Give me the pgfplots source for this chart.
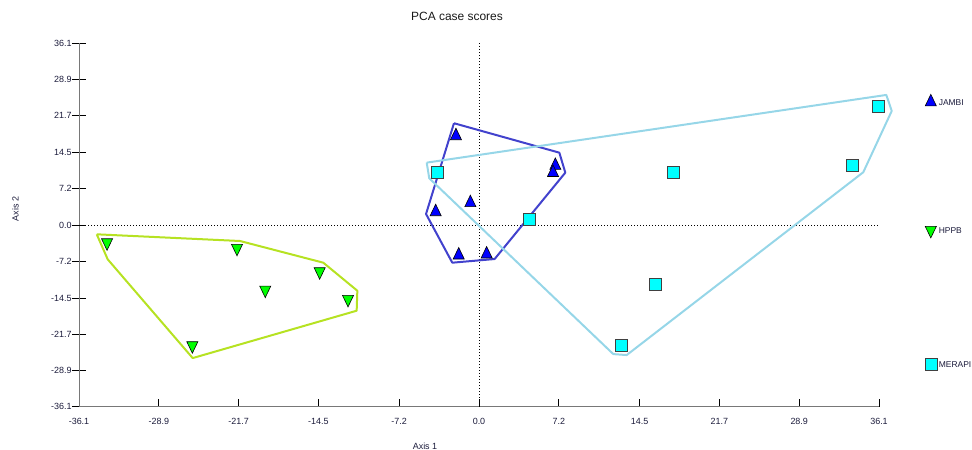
\documentclass[border=0pt]{standalone}
\usepackage{pgfplots}
\pgfplotsset{compat=1.18}
\usepackage{fontspec}
\setmainfont{Liberation Sans}

\definecolor{jambifill}{RGB}{0,0,255}
\definecolor{jambihull}{RGB}{66,66,205}
\definecolor{hppbfill}{RGB}{0,255,0}
\definecolor{hppbhull}{RGB}{182,226,34}
\definecolor{merapifill}{RGB}{0,255,255}
\definecolor{merapihull}{RGB}{150,214,232}
\definecolor{axisgray}{RGB}{120,120,120}
\definecolor{labelc}{RGB}{28,28,60}

\begin{document}
\begin{tikzpicture}
\path[use as bounding box] (0,0) rectangle (972bp,450bp);
\begin{axis}[
  at={(79bp,43.3bp)}, anchor=south west,
  scale only axis, width=800bp, height=363.4bp,
  xmin=-36.1, xmax=36.1, ymin=-36.1, ymax=36.1,
  axis x line=bottom, axis y line=left,
  axis line style={-, draw=axisgray, line width=0.9bp},
  clip=false,
  xtick={-36.1,-28.9,-21.7,-14.5,-7.2,0,7.2,14.5,21.7,28.9,36.1},
  xticklabels={-36.1,-28.9,-21.7,-14.5,-7.2,0.0,7.2,14.5,21.7,28.9,36.1},
  ytick={-36.1,-28.9,-21.7,-14.5,-7.2,0,7.2,14.5,21.7,28.9,36.1},
  yticklabels={-36.1,-28.9,-21.7,-14.5,-7.2,0.0,7.2,14.5,21.7,28.9,36.1},
  xtick align=inside, ytick align=center,
  major tick length=7.7bp,
  y tick style={/pgfplots/major tick length=14bp},
  tick style={black, line width=0.7bp},
  ticklabel style={font=\fontsize{9}{10}\selectfont, text=labelc},
  xticklabel style={yshift=-8bp},
  title={PCA case scores},
  every axis title/.style={at={(axis description cs:0.4725,1.0732)}, anchor=center,
    font=\fontsize{12}{14}\selectfont, text=black!90},
  xlabel={Axis 1},
  xlabel style={at={(axis description cs:0.4325,-0.108)}, anchor=center,
    font=\fontsize{9}{10}\selectfont, text=labelc},
  ylabel={Axis 2},
  ylabel style={at={(axis description cs:-0.0794,0.544)}, anchor=center,
    font=\fontsize{9}{10}\selectfont, text=labelc},
  legend image code/.code={%
    \draw[mark repeat=2,mark phase=2,#1] plot coordinates {(0bp,0bp) (6bp,0bp) (12bp,0bp)};},
  legend style={at={(axis description cs:1.057,0.860)}, anchor=north west,
    draw=none, fill=none, inner sep=0pt, row sep=120.5bp,
    font=\fontsize{8.5}{9}\selectfont, text=labelc,
    nodes={inner sep=0pt, text height=6bp, text depth=0bp},
    /tikz/every odd column/.style={column sep=2bp}},
  legend cell align=left,
]
% zero reference lines
\addplot[forget plot, black, line width=0.8bp, dash pattern=on 1bp off 2bp]
  coordinates {(0,-36.1) (0,36.1)};
\addplot[forget plot, black, line width=0.8bp, dash pattern=on 1bp off 2bp]
  coordinates {(-36.1,0) (36.1,0)};

% case scores
\addplot[only marks, mark=triangle*, mark size=6.4bp,
  mark options={yscale=1.2, fill=jambifill, draw=black, line width=0.6bp}]
  coordinates {(-2.08,17.7) (6.89,11.8) (6.68,10.4) (-0.78,4.4)
               (-3.91,2.6) (-1.83,-6.0) (0.69,-5.8)};
\addlegendentry{JAMBI}
\addplot[only marks, mark=triangle*, mark size=6.4bp,
  mark options={rotate=180, yscale=1.2, fill=hppbfill, draw=black, line width=0.6bp}]
  coordinates {(-33.57,-3.5) (-21.84,-4.6) (-14.38,-9.25) (-19.29,-12.9)
               (-11.82,-14.75) (-25.87,-23.95)};
\addlegendentry{HPPB}
\addplot[only marks, mark=square*, mark size=6bp,
  mark options={fill=merapifill, draw=black!75, line width=0.6bp}]
  coordinates {(-3.73,10.54) (4.54,1.13) (36.07,23.52) (33.7,11.79)
               (17.54,10.48) (15.88,-11.79) (12.88,-23.86)};
\addlegendentry{MERAPI}

% convex hulls of the groups
\addplot[forget plot, jambihull, line width=2bp, line join=round]
  coordinates {(-2.26,20.22) (7.25,14.37) (7.79,10.40) (1.41,-6.76)
               (-2.41,-7.49) (-4.78,2.19) (-2.26,20.22)};
\addplot[forget plot, hppbhull, line width=2bp, line join=round]
  coordinates {(-34.5,-1.85) (-21.57,-3.18) (-14.05,-7.49) (-10.98,-13.06)
               (-11.04,-17.03) (-25.84,-26.44) (-33.51,-6.82) (-34.5,-1.85)};
\addplot[forget plot, merapihull, line width=2bp, line join=round]
  coordinates {(-4.72,12.39) (36.76,25.84) (37.25,22.66) (34.68,10.48)
               (13.33,-25.84) (12.12,-25.65) (-4.49,9.28) (-4.72,12.39)};
\end{axis}
\end{tikzpicture}
\end{document}
